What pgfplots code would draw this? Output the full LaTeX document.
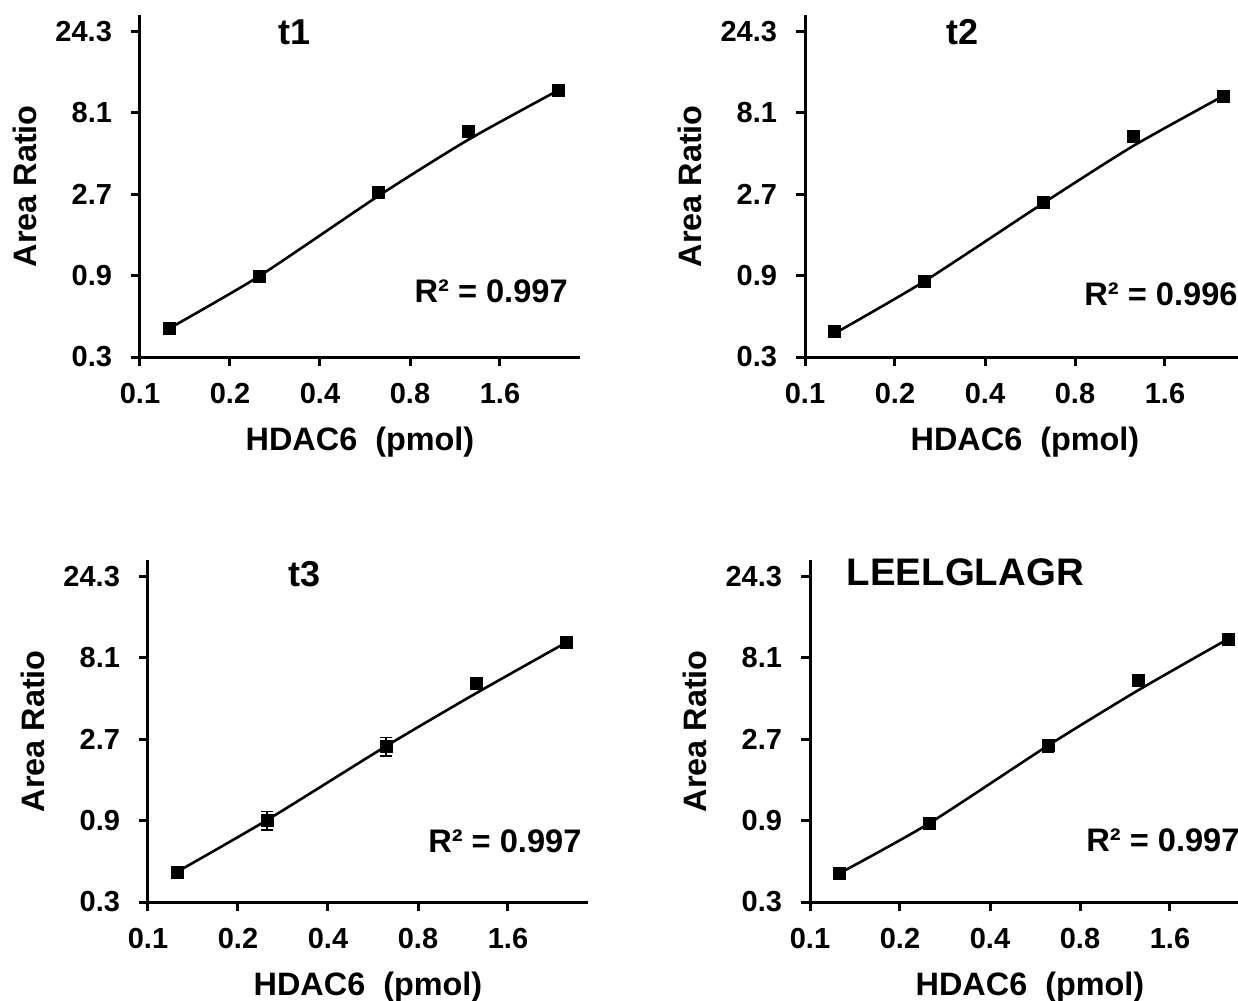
\documentclass[border=0pt]{standalone}
\usepackage{fontspec}
\setmainfont{Liberation Sans}
\usepackage{pgfplots}
\usepackage{pgfplotstable}
\pgfplotsset{compat=1.18}

% x, marker y, error, fitted line y
\pgfplotstableread{
x     y      e     f
0.125 0.444  0.02  0.44
0.25  0.895  0.03  0.89
0.625 2.75   0.08  2.62
1.25  6.25   0.15  5.6
2.5   10.9   0.35  10.9
}\tone
\pgfplotstableread{
x     y      e     f
0.125 0.422  0.02  0.41
0.25  0.836  0.03  0.83
0.625 2.40   0.15  2.38
1.25  5.91   0.15  5.15
2.5   10.1   0.50  10.1
}\ttwo
\pgfplotstableread{
x     y      e     f
0.125 0.450  0.02  0.45
0.25  0.905  0.11  0.905
0.625 2.45   0.31  2.45
1.25  5.70   0.15  5.00
2.5   9.90   0.65  9.90
}\tthree
\pgfplotstableread{
x     y      e     f
0.125 0.440  0.02  0.44
0.25  0.865  0.03  0.865
0.625 2.47   0.20  2.47
1.25  5.95   0.15  5.20
2.5   10.4   0.30  10.4
}\tfour

\pgfplotsset{
  every axis/.append style={
    scale only axis, width=220pt, height=170.8pt,
    xmin=0.1, xmax=2.963, ymin=0.3, ymax=30,
    axis lines*=left,
    axis line style={line width=1.5pt, black},
    xtick={0.1,0.2,0.4,0.8,1.6}, xticklabels={0.1,0.2,0.4,0.8,1.6},
    ytick={0.3,0.9,2.7,8.1,24.3}, yticklabels={0.3,0.9,2.7,8.1,24.3},
    minor xtick={}, minor ytick={},
    tick align=outside, major tick length=4.5pt,
    tick style={line width=1.5pt, black},
    ticklabel style={font=\bfseries\fontsize{14.5}{16}\selectfont},
    xticklabel style={yshift=-5pt},
    yticklabel style={xshift=-6pt},
    xlabel={HDAC6\ \ (pmol)}, ylabel={Area Ratio},
    label style={font=\bfseries\fontsize{16.2}{18}\selectfont},
    xlabel style={at={(axis description cs:0.5,-0.25)}, anchor=center},
    ylabel style={at={(axis description cs:-0.261,0.5)}, anchor=center},
    clip=false,
  },
}

\begin{document}
\begin{tikzpicture}
% ---- t1
\begin{axis}[xmode=log, ymode=log, log basis x=2, log basis y=3, anchor=south west, at={(70pt,-178.5pt)}]
  \addplot[line width=1.3pt, black, smooth, tension=0.4] table[x=x, y=f] {\tone};
  \addplot[only marks, mark=square*, mark size=3pt, black,
    error bars/.cd, y dir=both, y explicit,
    error bar style={line width=0.8pt, black},
    error mark options={rotate=90, mark size=2.8pt, line width=0.8pt, black}]
    table[x=x, y=y, y error=e] {\tone};
  \node[font=\bfseries\fontsize{18}{20}\selectfont] at (rel axis cs:0.352,0.95) {t1};
  \node[anchor=base east, inner sep=0pt, font=\bfseries\fontsize{16.3}{18}\selectfont] at (rel axis cs:0.973,0.161) {R² = 0.997};
\end{axis}
% ---- t2
\begin{axis}[xmode=log, ymode=log, log basis x=2, log basis y=3, anchor=south west, at={(402.5pt,-178.5pt)}]
  \addplot[line width=1.3pt, black, smooth, tension=0.4] table[x=x, y=f] {\ttwo};
  \addplot[only marks, mark=square*, mark size=3pt, black,
    error bars/.cd, y dir=both, y explicit,
    error bar style={line width=0.8pt, black},
    error mark options={rotate=90, mark size=2.8pt, line width=0.8pt, black}]
    table[x=x, y=y, y error=e] {\ttwo};
  \node[font=\bfseries\fontsize{18}{20}\selectfont] at (rel axis cs:0.359,0.95) {t2};
  \node[anchor=base east, inner sep=0pt, font=\bfseries\fontsize{16.3}{18}\selectfont] at (rel axis cs:0.984,0.152) {R² = 0.996};
\end{axis}
% ---- t3
\begin{axis}[xmode=log, ymode=log, log basis x=2, log basis y=3, anchor=south west, at={(74pt,-451pt)}]
  \addplot[line width=1.3pt, black, smooth, tension=0.4] table[x=x, y=f] {\tthree};
  \addplot[only marks, mark=square*, mark size=3pt, black,
    error bars/.cd, y dir=both, y explicit,
    error bar style={line width=0.8pt, black},
    error mark options={rotate=90, mark size=2.8pt, line width=0.8pt, black}]
    table[x=x, y=y, y error=e] {\tthree};
  \node[font=\bfseries\fontsize{18}{20}\selectfont] at (rel axis cs:0.356,0.959) {t3};
  \node[anchor=base east, inner sep=0pt, font=\bfseries\fontsize{16.3}{18}\selectfont] at (rel axis cs:0.986,0.145) {R² = 0.997};
\end{axis}
% ---- LEELGLAGR
\begin{axis}[xmode=log, ymode=log, log basis x=2, log basis y=3, anchor=south west, at={(405pt,-451pt)}]
  \addplot[line width=1.3pt, black, smooth, tension=0.4] table[x=x, y=f] {\tfour};
  \addplot[only marks, mark=square*, mark size=3pt, black,
    error bars/.cd, y dir=both, y explicit,
    error bar style={line width=0.8pt, black},
    error mark options={rotate=90, mark size=2.8pt, line width=0.8pt, black}]
    table[x=x, y=y, y error=e] {\tfour};
  \node[font=\bfseries\fontsize{19.2}{22}\selectfont] at (rel axis cs:0.353,0.965) {LEELGLAGR};
  \node[anchor=base east, inner sep=0pt, font=\bfseries\fontsize{16.3}{18}\selectfont] at (rel axis cs:0.977,0.148) {R² = 0.997};
\end{axis}
\pgfresetboundingbox
\path[use as bounding box] (0pt,0pt) rectangle (619pt,-500.5pt);
\end{tikzpicture}
\end{document}
